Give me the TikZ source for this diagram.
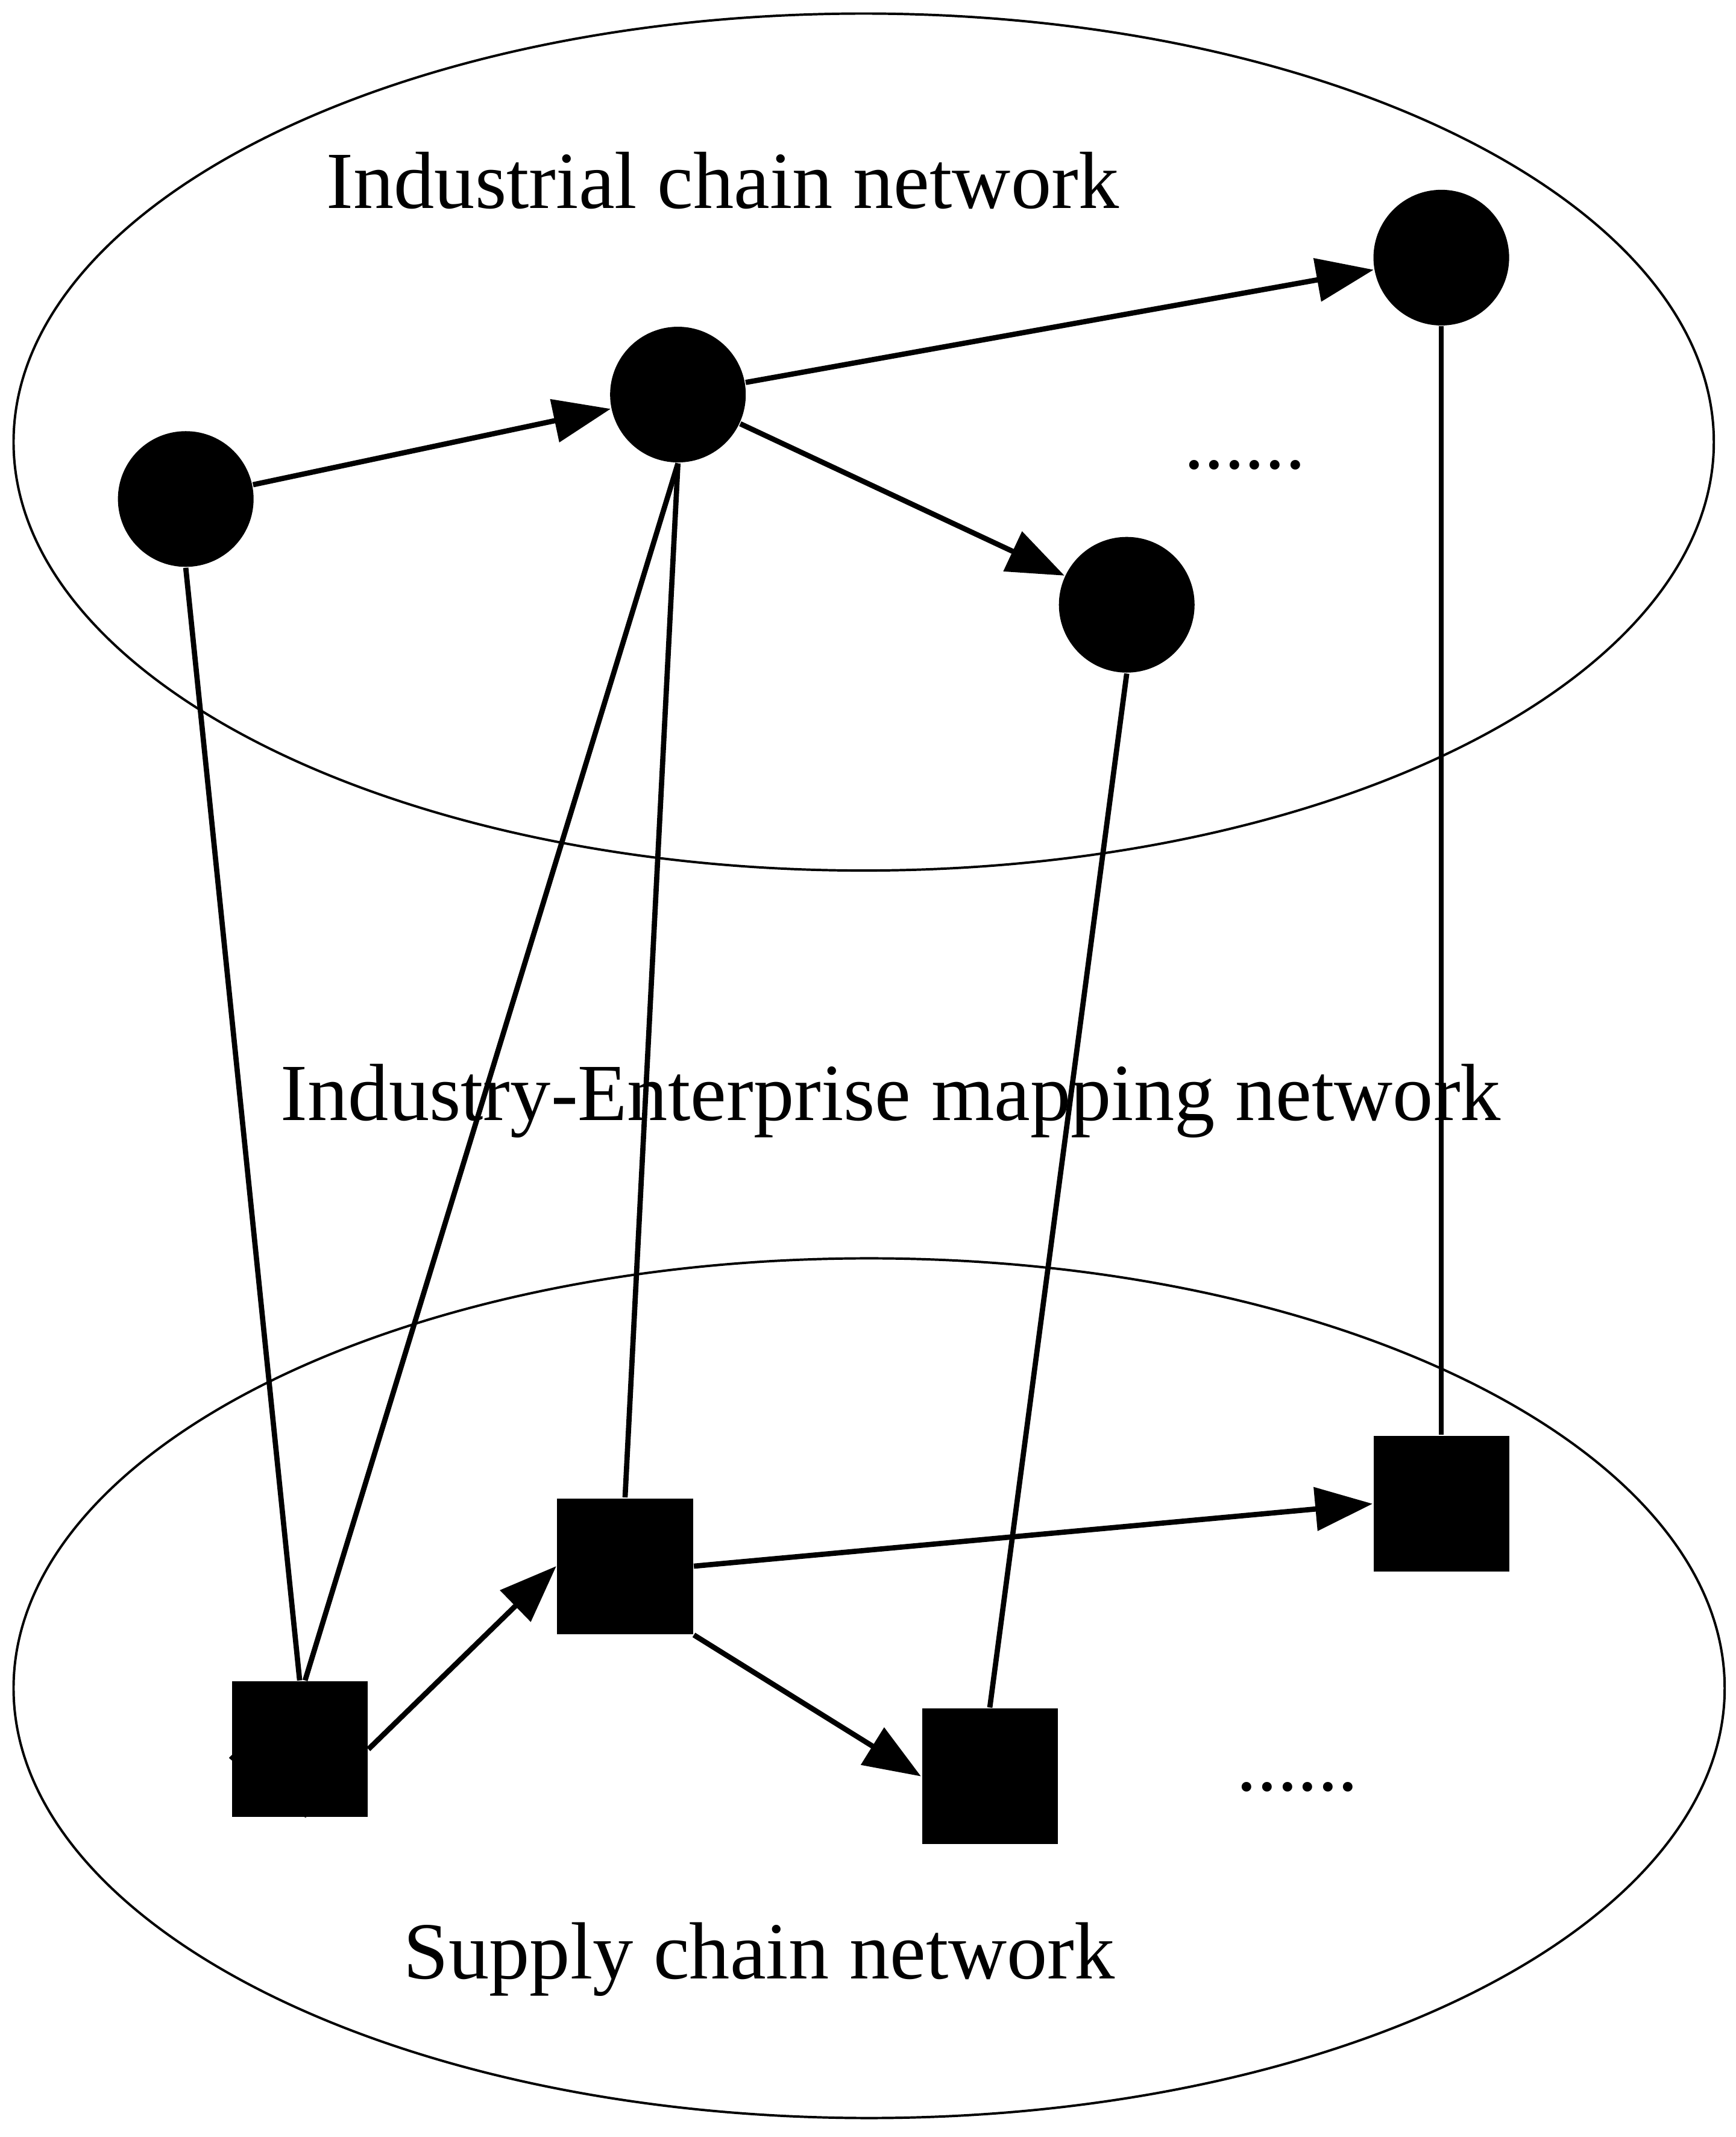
\documentclass[tikz,border=0pt]{standalone}
\usepackage{fontspec}
\setmainfont{Liberation Serif}
\usetikzlibrary{arrows.meta}
\begin{document}
\begin{tikzpicture}[x=0.01cm,y=-0.01cm,
  circ/.style={circle,fill=black,minimum size=1cm,inner sep=0},
  sq/.style={rectangle,fill=black,minimum size=1cm,inner sep=0},
  ln/.style={line width=1.1pt},
  arr/.style={ln,-{Triangle[length=12pt,width=9pt]}},
  lbl/.style={font=\fontsize{17}{20}\selectfont}]
\useasboundingbox (0,0) rectangle (1280,1576);
\draw[line width=0.5pt] (637,326) ellipse [x radius=627, y radius=316];
\draw[line width=0.5pt] (641,1245) ellipse [x radius=631, y radius=317];
\node[circ] (A) at (137,368) {};
\node[circ] (B) at (500,291) {};
\node[circ] (C) at (1063,190) {};
\node[circ] (D) at (831,446) {};
\node[sq] (S1) at (221,1290) {};
\node[sq] (S2) at (461,1155) {};
\node[sq] (S3) at (1063,1109) {};
\node[sq] (S4) at (730,1310) {};
\node[lbl] (t1) at (533,133) {Industrial chain network};
\node[lbl] (t2) at (657,812) {Industry-Enterprise mapping network};
\node[lbl] (t3) at (560,1445) {Supply chain network};
\node[lbl] (d1) at (918,343) {......};
\node[lbl] (d2) at (957,1318) {......};
\draw[arr] (A) -- (B);
\draw[arr] (B) -- (C);
\draw[arr] (B) -- (D);
\draw[ln] (A.south) -- (S1.north);
\draw[ln] (B.south) -- ([xshift=0.04cm]S1.north);
\draw[ln] (B.south) -- (S2.north);
\draw[ln] (D.south) -- (S4.north);
\draw[ln] (C.south) -- (S3.north);
\draw[arr] (S1.east) -- (S2.west);
\draw[arr] (S2.east) -- (S3.west);
\draw[arr] (S2.south east) -- (S4.west);
\draw[arr] ([yshift=-0.05cm]S1.west) .. controls +(-0.75,0) and +(-0.45,-0.45) .. ([xshift=0.05cm]S1.south);
\end{tikzpicture}
\end{document}
